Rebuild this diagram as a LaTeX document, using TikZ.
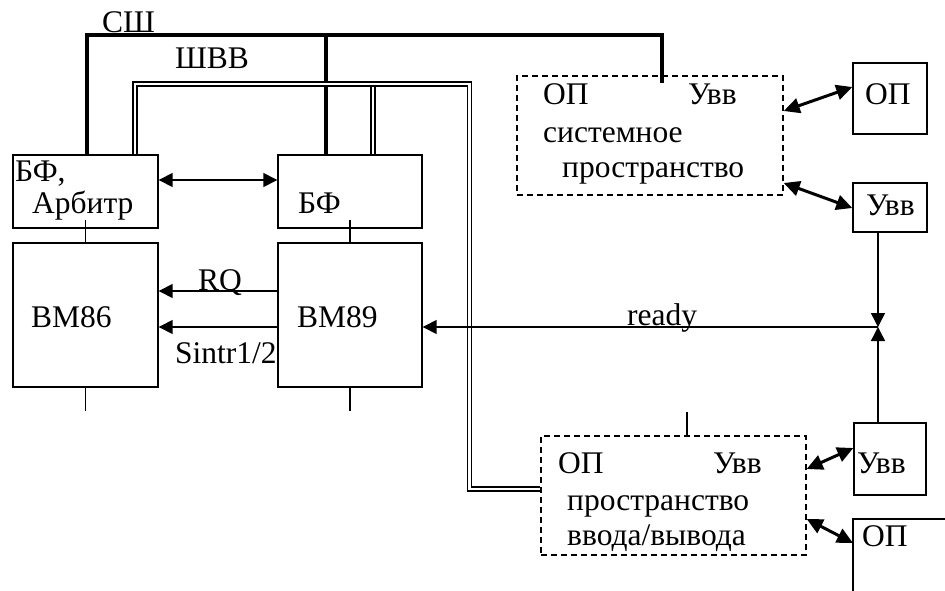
\documentclass[tikz,border=0pt]{standalone}
\usepackage{fontspec}
\setmainfont{Liberation Serif}
\usetikzlibrary{arrows.meta,calc}
\begin{document}
\begin{tikzpicture}[x=1pt,y=-1pt,
  box/.style n args={2}{draw,line width=1.4pt,inner sep=0pt,minimum width=#1,minimum height=#2},
  dbox/.style n args={2}{draw,line width=1.4pt,dash pattern=on 6pt off 4pt,inner sep=0pt,minimum width=#1,minimum height=#2},
  lbl/.style={font=\fontsize{31.5}{34}\selectfont,anchor=base west,inner sep=0pt},
  ln/.style={line width=1.5pt},
  bus/.style={line width=4pt},
  shvv/.style={double,line width=1.3pt,double distance=2.8pt},
  tip/.style={-{Triangle[length=14pt,width=14pt]}},
  dtip/.style={{Triangle[length=14pt,width=14pt]}-{Triangle[length=14pt,width=14pt]}},
  darr/.style={line width=3pt,{Triangle[length=16pt,width=15pt]}-{Triangle[length=16pt,width=15pt]}}]
\useasboundingbox (0,0) rectangle (945,590);

% boxes
\node[box={145pt}{73pt}] (bfa) at (85.5,191.5) {};
\node[box={144pt}{73pt}] (bf) at (350,191.5) {};
\node[box={145pt}{144pt}] (vm86) at (85.5,315) {};
\node[box={144pt}{144pt}] (vm89) at (350,315) {};
\node[dbox={266pt}{119pt}] (sys) at (650,135.5) {};
\node[box={74pt}{71pt}] (op1) at (890,98.5) {};
\node[box={74pt}{49pt}] (uvv1) at (890,207.5) {};
\node[dbox={265pt}{119pt}] (io) at (673.5,495.5) {};
\node[box={72pt}{72pt}] (uvv2) at (890,459) {};
\coordinate (op2) at (853,519);
\coordinate (op2r) at (946,519);
\coordinate (op2b) at (853,591);
\draw[ln] (op2r) -- (op2) -- (op2b);

% texts
\node[lbl] (tsh) at (102,32) {СШ};
\node[lbl] (tshvv) at (175,68) {ШВВ};
\node[lbl] (t1) at (15,181) {БФ,};
\node[lbl] (t2) at (32,213) {Арбитр};
\node[lbl] (t3) at (298,213) {БФ};
\node[lbl] (t4) at (31,327) {ВМ86};
\node[lbl] (t5) at (297,327) {ВМ89};
\node[lbl] (t6) at (198,290) {RQ};
\node[lbl] (t7) at (175,363) {Sintr1/2};
\node[lbl] (t8) at (627,325) {ready};
\node[lbl] (s1) at (543,104) {ОП};
\node[lbl] (s2) at (688,104) {Увв};
\node[lbl] (s3) at (543,142) {системное};
\node[lbl] (s4) at (562,177) {пространство};
\node[lbl] (o1) at (865,104) {ОП};
\node[lbl] (u1) at (866,215) {Увв};
\node[lbl] (i1) at (558,473) {ОП};
\node[lbl] (i2) at (713,473) {Увв};
\node[lbl] (i3) at (567,510) {пространство};
\node[lbl] (i4) at (567,545) {ввода/вывода};
\node[lbl] (u2) at (857,473) {Увв};
\node[lbl] (o2) at (862,546) {ОП};

% system bus СШ
\coordinate (c1) at (87,35);
\coordinate (c2) at (662,35);
\coordinate (c3) at (662,83);
\coordinate (c4) at (326,35);
\draw[bus] (bfa.north -| c1) -- (c1) -- (c2) -- (c3);
\draw[bus] (c4) -- (bf.north -| c4);

% ШВВ double bus
\coordinate (w1) at (135,84);
\coordinate (w2) at (469.5,84);
\coordinate (w3) at (469.5,489);
\coordinate (w4) at (373,86);
\draw[shvv] (w4) -- (bf.north -| w4);
\draw[shvv] (bfa.north -| w1) -- (w1) -- (w2) -- (w3) -- (io.west |- w3);

% stubs
\coordinate (st1) at (85.5,220);
\coordinate (st2) at (350,220);
\coordinate (st3) at (85.5,411);
\coordinate (st4) at (350,411);
\coordinate (st5) at (687,412);
\draw[ln] (st1) -- (vm86.north);
\draw[ln] (st2) -- (vm89.north);
\draw[ln] (vm86.south) -- (st3);
\draw[ln] (vm89.south) -- (st4);
\draw[ln] (st5) -- (io.north -| st5);

% arrows between processors
\coordinate (ya) at (0,180);
\coordinate (yrq) at (0,291);
\coordinate (ysi) at (0,327);
\draw[ln,dtip] (bfa.east |- ya) -- (bf.west |- ya);
\draw[ln,tip] (vm89.west |- yrq) -- (vm86.east |- yrq);
\draw[ln,tip] (vm89.west |- ysi) -- (vm86.east |- ysi);

% ready
\coordinate (rdy) at (878,327);
\draw[ln,tip] (rdy |- uvv1.south) -- (rdy);
\draw[ln,tip] (rdy |- uvv2.north) -- (rdy);
\draw[ln,tip] (rdy) -- (vm89.east |- rdy);

% diagonal arrows
\coordinate (ys1) at (0,111);
\coordinate (yo1) at (0,87);
\coordinate (ys2) at (0,183);
\coordinate (yu1) at (0,208);
\coordinate (yi1) at (0,469);
\coordinate (yu2) at (0,448);
\coordinate (yi2) at (0,519);
\coordinate (yo2) at (0,543);
\draw[darr] (sys.east |- ys1) -- (op1.west |- yo1);
\draw[darr] (sys.east |- ys2) -- (uvv1.west |- yu1);
\draw[darr] (io.east |- yi1) -- (uvv2.west |- yu2);
\draw[darr] (io.east |- yi2) -- (op2 |- yo2);
\end{tikzpicture}
\end{document}
